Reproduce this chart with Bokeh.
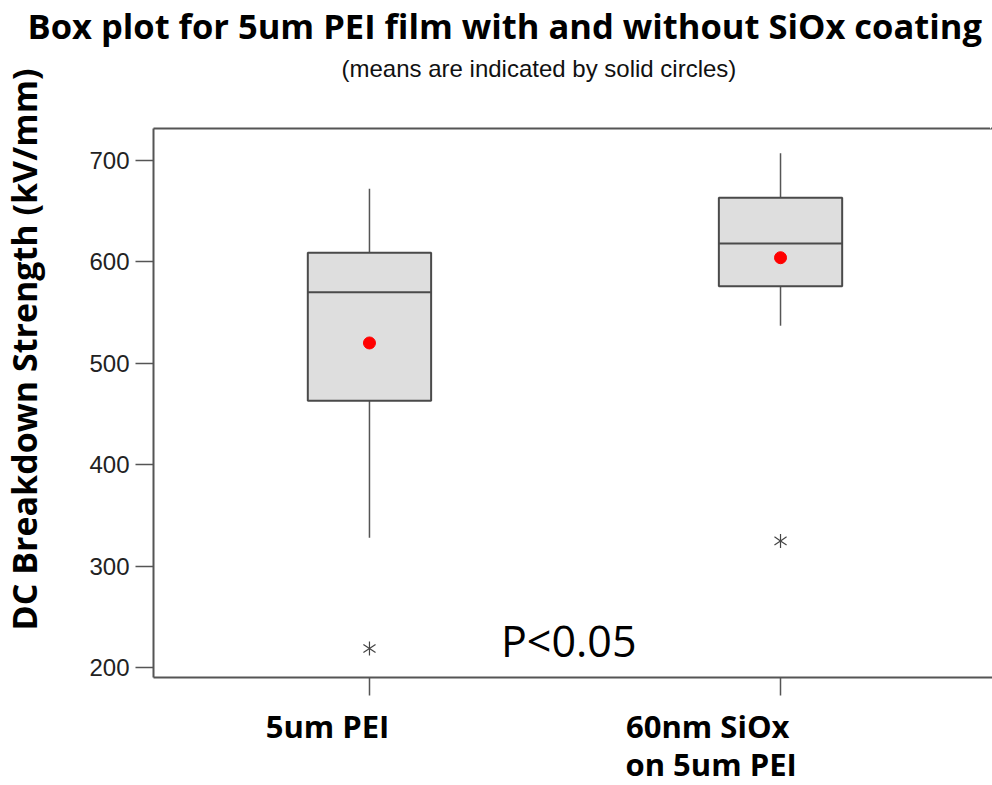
from bokeh.plotting import figure
from bokeh.models import (FixedTicker, LinearAxis, Title, ColumnDataSource, Range1d, Label)
from bokeh.embed import file_html
from bokeh.resources import INLINE
import math

# ---------------- data ----------------
categories = ["5um PEI", "60nm SiOx\non 5um PEI"]
xpos = [1, 2]
upper_whisker = [672, 707]
q3 = [609, 663]
median = [570, 618]
mean = [520, 604]
q1 = [463, 576]
lower_whisker = [328, 537]
outlier_x = [1, 2]
outlier_y = [219, 325]
y_ticks = [200, 300, 400, 500, 600, 700]

title_text = "Box plot for 5um PEI film with and without SiOx coating"
subtitle_text = "(means are indicated by solid circles)"
ylabel_text = "DC Breakdown Strength (kV/mm)"
p_text = "P<0.05"

# ---------------- layout ----------------
W, H = 992, 785
FL, FT, FB, FR = 152, 128, 677, 992   # frame edges in px
X0, X1 = 0.4746, 2.5157
Y0, Y1 = 190.4, 731.3
# first-line category texts sit a little left of their tick marks (x units)
line1_shift = [-0.102, -0.177]

p = figure(width=W, height=H, output_backend="svg", toolbar_location=None, title=None,
           x_range=Range1d(X0, X1), y_range=Range1d(Y0, Y1),
           min_border_left=FL, min_border_right=0, min_border_top=FT,
           min_border_bottom=H - FB, x_axis_type=None, y_axis_type=None)
p.outline_line_color = None
p.background_fill_color = "white"
p.border_fill_color = "white"

AX = "#555555"

def spacer(size, at):
    # an axis with one invisible (white) tick, used only to reserve room
    s = LinearAxis(ticker=FixedTicker(ticks=[at]))
    s.axis_line_color = None
    s.major_tick_line_color = "white"
    s.major_tick_out = size
    s.major_tick_in = 0
    s.minor_tick_line_color = None
    s.major_label_standoff = 0
    s.major_label_text_font_size = "0px"
    s.major_label_overrides = {at: ""}
    return s

# left axis
ya = LinearAxis(ticker=FixedTicker(ticks=y_ticks))
ya.axis_line_color = AX
ya.axis_line_width = 2
ya.major_tick_line_color = AX
ya.major_tick_line_width = 1.5
ya.major_tick_out = 18
ya.major_tick_in = 0
ya.minor_tick_line_color = None
ya.major_label_standoff = 6
ya.major_label_text_font = "Liberation Sans"
ya.major_label_text_font_size = "24px"
ya.major_label_text_color = "#222222"
p.add_layout(ya, "left")
p.add_layout(spacer(42, Y1 - 0.3), "left")
p.add_layout(Title(text=ylabel_text, align="left", offset=47, standoff=-4,
                   text_font="Open Sans", text_font_style="bold", text_font_size="34px",
                   text_color="black"), "left")

# bottom axis: tick marks at the categories
xa = LinearAxis(ticker=FixedTicker(ticks=xpos))
xa.axis_line_color = AX
xa.axis_line_width = 2
xa.major_tick_line_color = AX
xa.major_tick_line_width = 1.5
xa.major_tick_out = 18
xa.major_tick_in = 0
xa.minor_tick_line_color = None
xa.major_label_standoff = 0
xa.major_label_text_font_size = "0px"
xa.major_label_overrides = {1: "", 2: ""}
p.add_layout(xa, "below")

lines = [c.split("\n") for c in categories]
t1 = [xv + s for xv, s in zip(xpos, line1_shift)]
xl = LinearAxis(ticker=FixedTicker(ticks=t1))
xl.axis_line_color = None
xl.major_tick_line_color = None
xl.minor_tick_line_color = None
xl.major_tick_out = 0
xl.major_tick_in = 0
xl.major_label_standoff = 9
xl.major_label_overrides = {t: l[0] for t, l in zip(t1, lines)}
xl.major_label_text_font = "Open Sans"
xl.major_label_text_font_style = "bold"
xl.major_label_text_font_size = "31px"
xl.major_label_text_color = "black"
p.add_layout(xl, "below")
p.add_layout(Title(text=lines[1][1], align="left", offset=624 - FL, standoff=-18,
                   text_font="Open Sans", text_font_style="bold", text_font_size="31px",
                   text_color="black"), "below")

# top border (+ gap above the frame)
ta = spacer(43, X1 - 0.004)
ta.axis_line_color = AX
ta.axis_line_width = 2
p.add_layout(ta, "above")
p.add_layout(Title(text=subtitle_text, align="left", offset=340 - FL, standoff=8,
                   text_font="Liberation Sans", text_font_style="normal",
                   text_font_size="24px", text_color="#111111"), "above")
p.add_layout(Title(text=title_text, align="left", offset=26 - FL, standoff=-1,
                   text_font="Open Sans", text_font_style="bold", text_font_size="34.5px",
                   text_color="black"), "above")

# ---------------- boxes ----------------
src = ColumnDataSource(dict(x=xpos, up=upper_whisker, q3=q3, med=median, mean=mean,
                            q1=q1, lo=lower_whisker,
                            xl=[v - 0.15 for v in xpos], xr=[v + 0.15 for v in xpos]))
p.segment(x0="x", y0="q3", x1="x", y1="up", source=src, line_color="#555555", line_width=1.5)
p.segment(x0="x", y0="q1", x1="x", y1="lo", source=src, line_color="#555555", line_width=1.5)
p.vbar(x="x", top="q3", bottom="q1", width=0.3, source=src, fill_color="#dedede",
       line_color="#4a4a4a", line_width=2)
p.segment(x0="xl", y0="med", x1="xr", y1="med", source=src, line_color="#4a4a4a", line_width=2)
p.scatter(x="x", y="mean", source=src, size=12, fill_color="red", line_color="red")
# six-armed asterisk for outliers
for ang in (0, math.pi):
    p.scatter(x=outlier_x, y=outlier_y, marker="y", size=14, angle=ang,
              line_color="#444444", line_width=1.2)

p.add_layout(Label(x=1.32, y=227, text=p_text, text_align="left",
                   text_baseline="middle", text_font="Open Sans",
                   text_font_size="43px", text_color="black"))

open("out.html", "w").write(file_html(p, INLINE))
